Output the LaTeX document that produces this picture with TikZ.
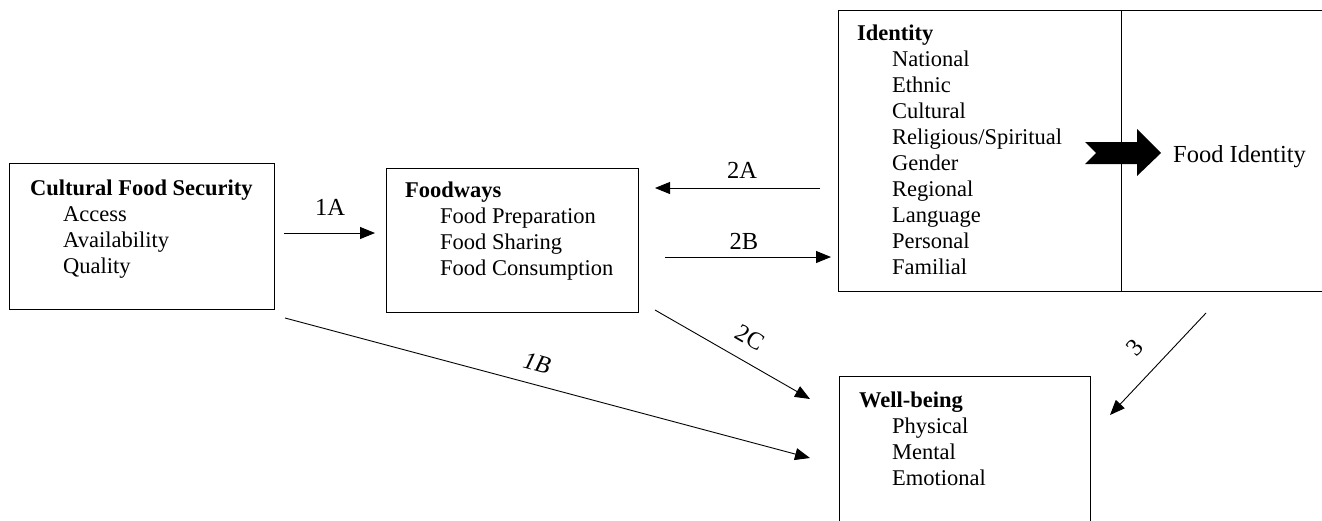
\documentclass[tikz,border=0pt]{standalone}
\usepackage{fontspec}
\setmainfont{Liberation Serif}
\usetikzlibrary{arrows.meta}

\begin{document}
\begin{tikzpicture}
  [x=1pt,y=-1pt,
   every node/.style={inner sep=0pt,font=\fontsize{22.5}{26}\selectfont},
   box/.style={draw,line width=1pt,anchor=north west},
   list/.style={anchor=base west},
   tag/.style={font=\fontsize{24.5}{28}\selectfont},
   link/.style={-{Triangle[length=15pt,width=12pt]},line width=0.9pt}]

  \useasboundingbox (0,0) rectangle (1322,520);
  \clip (0,0) rectangle (1322,520);

  % boxes
  \node[box,minimum width=265pt,minimum height=146pt] (cfs) at (9,163) {};
  \node[box,minimum width=252pt,minimum height=144pt] (fw) at (386,168) {};
  \node[box,minimum width=490pt,minimum height=281pt] (id) at (838,10) {};
  \node[box,minimum width=251pt,minimum height=150pt] (wb) at (839,376) {};
  \draw[line width=1pt] ([xshift=283pt]id.north west) -- ([xshift=283pt]id.south west);

  % box texts
  \node[list] (cfs-l) at (30,195) {\begin{tabular}[t]{@{}l@{}}
    \textbf{Cultural Food Security}\\
    \hspace*{33pt}Access\\
    \hspace*{33pt}Availability\\
    \hspace*{33pt}Quality
  \end{tabular}};
  \node[list] (fw-l) at (405,197) {\begin{tabular}[t]{@{}l@{}}
    \textbf{Foodways}\\
    \hspace*{35pt}Food Preparation\\
    \hspace*{35pt}Food Sharing\\
    \hspace*{35pt}Food Consumption
  \end{tabular}};
  \node[list] (id-l) at (857,40) {\begin{tabular}[t]{@{}l@{}}
    \textbf{Identity}\\
    \hspace*{35pt}National\\
    \hspace*{35pt}Ethnic\\
    \hspace*{35pt}Cultural\\
    \hspace*{35pt}Religious/Spiritual\\
    \hspace*{35pt}Gender\\
    \hspace*{35pt}Regional\\
    \hspace*{35pt}Language\\
    \hspace*{35pt}Personal\\
    \hspace*{35pt}Familial
  \end{tabular}};
  \node[list] (wb-l) at (859,407) {\begin{tabular}[t]{@{}l@{}}
    \textbf{Well-being}\\
    \hspace*{33pt}Physical\\
    \hspace*{33pt}Mental\\
    \hspace*{33pt}Emotional
  \end{tabular}};
  \node[tag,anchor=base west] (fid) at (1173,162) {Food Identity};

  % block arrow
  \fill (1085,142) -- (1137,142) -- (1137,129) -- (1161,153) -- (1137,176)
    -- (1137,164) -- (1085,164) -- (1096,153) -- cycle;

  % arrow ends
  \coordinate (s1a) at (284,233);  \coordinate (e1a) at (375,233);
  \coordinate (s2a) at (820,188);  \coordinate (e2a) at (655,188);
  \coordinate (s2b) at (665,257);  \coordinate (e2b) at (831,257);
  \coordinate (s1b) at (285,318);  \coordinate (e1b) at (810,458);
  \coordinate (s2c) at (655,310);  \coordinate (e2c) at (810,399);
  \coordinate (s3)  at (1206,313); \coordinate (e3)  at (1110,415);

\foreach \from/\to in {s1a/e1a,s2a/e2a,s2b/e2b,s1b/e1b,s2c/e2c,s3/e3}
    \draw[link] (\from) -- (\to);

  \node[tag] (t1a) at (330,207) {1A};
  \node[tag] (t2a) at (742,170) {2A};
  \node[tag] (t2b) at (744,241) {2B};
  \node[tag,rotate=-15] (t1b) at (537,363) {\textit{1B}};
  \node[tag,rotate=-30] (t2c) at (750,338) {2C};
  \node[tag,rotate=47] (t3) at (1135,348) {3};

\end{tikzpicture}
\end{document}
